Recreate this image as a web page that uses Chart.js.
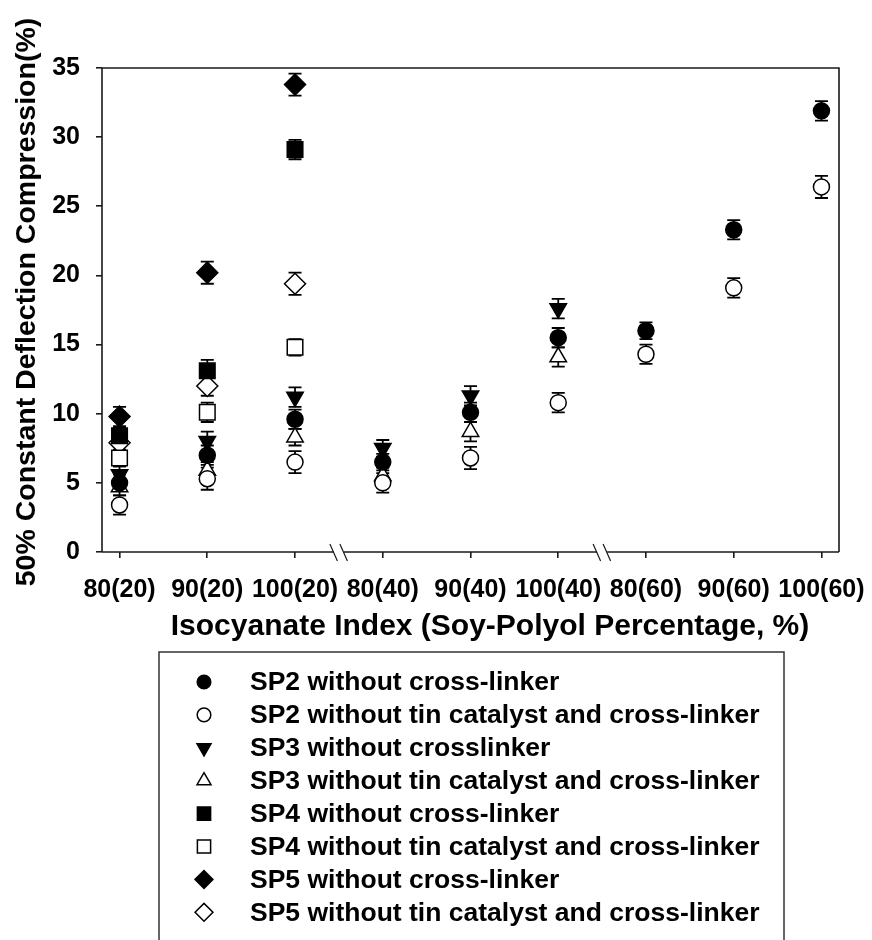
<!DOCTYPE html>
<html>
<head>
<meta charset="utf-8">
<style>
  html, body { margin: 0; padding: 0; background: #fff; }
  #wrap { width: 872px; height: 940px; }
</style>
<script src="https://cdn.jsdelivr.net/npm/chart.js@4.4.1/dist/chart.umd.min.js"></script>
</head>
<body>
<div id="wrap"><canvas id="c" width="872" height="940"></canvas></div>
<script>
// Isocyanate index (soy-polyol %) on the x axis
const categories = ['80(20)', '90(20)', '100(20)', '80(40)', '90(40)', '100(40)', '80(60)', '90(60)', '100(60)'];
const yTicks = [0, 5, 10, 15, 20, 25, 30, 35];
const axisBreaks = [2.5, 5.5];

const xTitle = 'Isocyanate Index (Soy-Polyol Percentage, %)';
const yTitle = '50% Constant Deflection Compression(%)';

// mean values, one per category (null = not measured)
const sp2 = [5.0, 7.0, 9.6, 6.5, 10.1, 15.5, 16.0, 23.3, 31.9];
const sp2Tin = [3.4, 5.3, 6.5, 5.0, 6.8, 10.8, 14.3, 19.1, 26.4];
const sp3 = [5.6, 8.0, 11.2, 7.5, 11.3, 17.6, null, null, null];
const sp3Tin = [4.7, 5.9, 8.3, 5.5, 8.7, 14.1, null, null, null];
const sp4 = [8.4, 13.1, 29.1, null, null, null, null, null, null];
const sp4Tin = [6.8, 10.1, 14.8, null, null, null, null, null, null];
const sp5 = [9.8, 20.2, 33.8, null, null, null, null, null, null];
const sp5Tin = [7.9, 12.0, 19.4, null, null, null, null, null, null];

// standard deviations
const sp2Err = [0.6, 0.7, 0.7, 0.6, 0.7, 0.7, 0.6, 0.7, 0.7];
const sp2TinErr = [0.7, 0.8, 0.8, 0.7, 0.8, 0.7, 0.7, 0.7, 0.8];
const sp3Err = [0.6, 0.7, 0.7, 0.6, 0.7, 0.7];
const sp3TinErr = [0.6, 0.6, 0.6, 0.6, 0.7, 0.7];
const sp4Err = [0.6, 0.8, 0.7];
const sp4TinErr = [0.6, 0.7, 0.6];
const sp5Err = [0.7, 0.8, 0.8];
const sp5TinErr = [0.6, 0.7, 0.8];

const FONT = '"Liberation Sans", Arial, sans-serif';

function toPoints(values, errs) {
    const pts = [];
    values.forEach((v, i) => {
        if (v !== null) pts.push({ x: i, y: v, err: errs[i] || 0 });
    });
    return pts;
}

function series(label, values, errs, style, filled, radius, rotation) {
    return {
        label: label,
        data: toPoints(values, errs),
        pointStyle: style,
        pointRadius: radius,
        pointHoverRadius: radius,
        pointRotation: rotation || 0,
        pointBackgroundColor: filled ? '#000' : '#fff',
        pointBorderColor: '#000',
        pointBorderWidth: 1.5,
        showLine: false
    };
}

const datasets = [
    series('SP2 without cross-linker', sp2, sp2Err, 'circle', true, 8),
    series('SP2 without tin catalyst and cross-linker', sp2Tin, sp2TinErr, 'circle', false, 8),
    series('SP3 without crosslinker', sp3, sp3Err, 'triangle', true, 9.5, 180),
    series('SP3 without tin catalyst and cross-linker', sp3Tin, sp3TinErr, 'triangle', false, 9.5),
    series('SP4 without cross-linker', sp4, sp4Err, 'rect', true, 11),
    series('SP4 without tin catalyst and cross-linker', sp4Tin, sp4TinErr, 'rect', false, 11),
    series('SP5 without cross-linker', sp5, sp5Err, 'rectRot', true, 10.5),
    series('SP5 without tin catalyst and cross-linker', sp5Tin, sp5TinErr, 'rectRot', false, 10.5)
];

// error bars sit behind the markers
const errorBars = {
    id: 'errorBars',
    beforeDatasetsDraw(chart) {
        const ctx = chart.ctx;
        const y = chart.scales.y;
        ctx.save();
        ctx.strokeStyle = '#000';
        ctx.lineWidth = 1.8;
        chart.data.datasets.forEach((ds, di) => {
            const meta = chart.getDatasetMeta(di);
            meta.data.forEach((pt, i) => {
                const d = ds.data[i];
                const top = y.getPixelForValue(d.y + d.err);
                const bot = y.getPixelForValue(d.y - d.err);
                ctx.beginPath();
                ctx.moveTo(pt.x, top); ctx.lineTo(pt.x, bot);
                ctx.moveTo(pt.x - 6.5, top); ctx.lineTo(pt.x + 6.5, top);
                ctx.moveTo(pt.x - 6.5, bot); ctx.lineTo(pt.x + 6.5, bot);
                ctx.stroke();
            });
        });
        ctx.restore();
    }
};

function marker(ctx, ds, x, y, scale) {
    const opts = {
        pointStyle: ds.pointStyle,
        radius: ds.pointRadius * scale,
        rotation: ds.pointRotation,
        borderWidth: ds.pointBorderWidth
    };
    ctx.fillStyle = ds.pointBackgroundColor;
    ctx.strokeStyle = ds.pointBorderColor;
    ctx.lineWidth = ds.pointBorderWidth;
    Chart.helpers.drawPoint(ctx, opts, x, y);
}

// frame, axis breaks, axis titles and the boxed legend
const decorations = {
    id: 'decorations',
    afterDraw(chart) {
        const ctx = chart.ctx;
        const a = chart.chartArea;
        const x = chart.scales.x;
        ctx.save();
        ctx.strokeStyle = '#1a1a1a';
        ctx.lineWidth = 1.6;
        ctx.beginPath();
        ctx.moveTo(a.left, a.bottom);
        ctx.lineTo(a.left, a.top);
        ctx.lineTo(a.right, a.top);
        ctx.lineTo(a.right, a.bottom);
        ctx.stroke();

        // bottom axis with gaps where the index series restarts
        let start = a.left;
        ctx.beginPath();
        axisBreaks.forEach(b => {
            const px = x.getPixelForValue(b);
            ctx.moveTo(start, a.bottom);
            ctx.lineTo(px - 5, a.bottom);
            start = px + 5;
        });
        ctx.moveTo(start, a.bottom);
        ctx.lineTo(a.right, a.bottom);
        ctx.stroke();

        ctx.lineWidth = 1.2;
        ctx.beginPath();
        axisBreaks.forEach(b => {
            const px = x.getPixelForValue(b);
            [-5, 5].forEach(off => {
                ctx.moveTo(px + off - 4, a.bottom - 8);
                ctx.lineTo(px + off + 3.5, a.bottom + 9);
            });
        });
        ctx.stroke();

        ctx.fillStyle = '#000';
        ctx.textAlign = 'center';
        ctx.textBaseline = 'middle';
        ctx.font = 'bold 30px ' + FONT;
        ctx.fillText(xTitle, 490, 627);

        ctx.save();
        ctx.translate(27, 302);
        ctx.rotate(-Math.PI / 2);
        ctx.font = 'bold 28.5px ' + FONT;
        ctx.fillText(yTitle, 0, 0);
        ctx.restore();

        // legend
        ctx.strokeStyle = '#333';
        ctx.lineWidth = 1.5;
        ctx.strokeRect(159, 652, 625, 320);
        ctx.font = 'bold 26.5px ' + FONT;
        ctx.textAlign = 'left';
        chart.data.datasets.forEach((ds, i) => {
            const ly = 682 + i * 32.9;
            marker(ctx, ds, 204, ly, 0.85);
            ctx.fillStyle = '#000';
            ctx.fillText(ds.label, 250, ly + 1);
        });
        ctx.restore();
    }
};

const tickFont = { family: FONT, size: 25, weight: 'bold' };

new Chart(document.getElementById('c'), {
    type: 'scatter',
    data: { datasets: datasets },
    options: {
        responsive: false,
        animation: false,
        layout: { padding: { top: 68, right: 33, bottom: 328, left: 0 } },
        plugins: { legend: { display: false }, tooltip: { enabled: false } },
        scales: {
            x: {
                type: 'linear',
                min: -0.2,
                max: 8.2,
                afterBuildTicks: s => { s.ticks = categories.map((c, i) => ({ value: i })); },
                afterFit: s => { s.height = 60; s.paddingLeft = 0; s.paddingRight = 0; },
                border: { display: false },
                grid: { drawOnChartArea: false, drawTicks: true, tickLength: 6, color: '#1a1a1a', lineWidth: 1.6 },
                ticks: {
                    autoSkip: false,
                    maxRotation: 0,
                    padding: 17,
                    color: '#000',
                    font: tickFont,
                    callback: v => categories[v]
                }
            },
            y: {
                min: 0,
                max: 35,
                afterBuildTicks: s => { s.ticks = yTicks.map(v => ({ value: v })); },
                afterFit: s => { s.width = 102; s.paddingTop = 0; s.paddingBottom = 0; },
                border: { display: false },
                grid: { drawOnChartArea: false, drawTicks: true, tickLength: 6, color: '#1a1a1a', lineWidth: 1.6 },
                ticks: { padding: 16, color: '#000', font: tickFont }
            }
        }
    },
    plugins: [errorBars, decorations]
});
</script>
</body>
</html>
